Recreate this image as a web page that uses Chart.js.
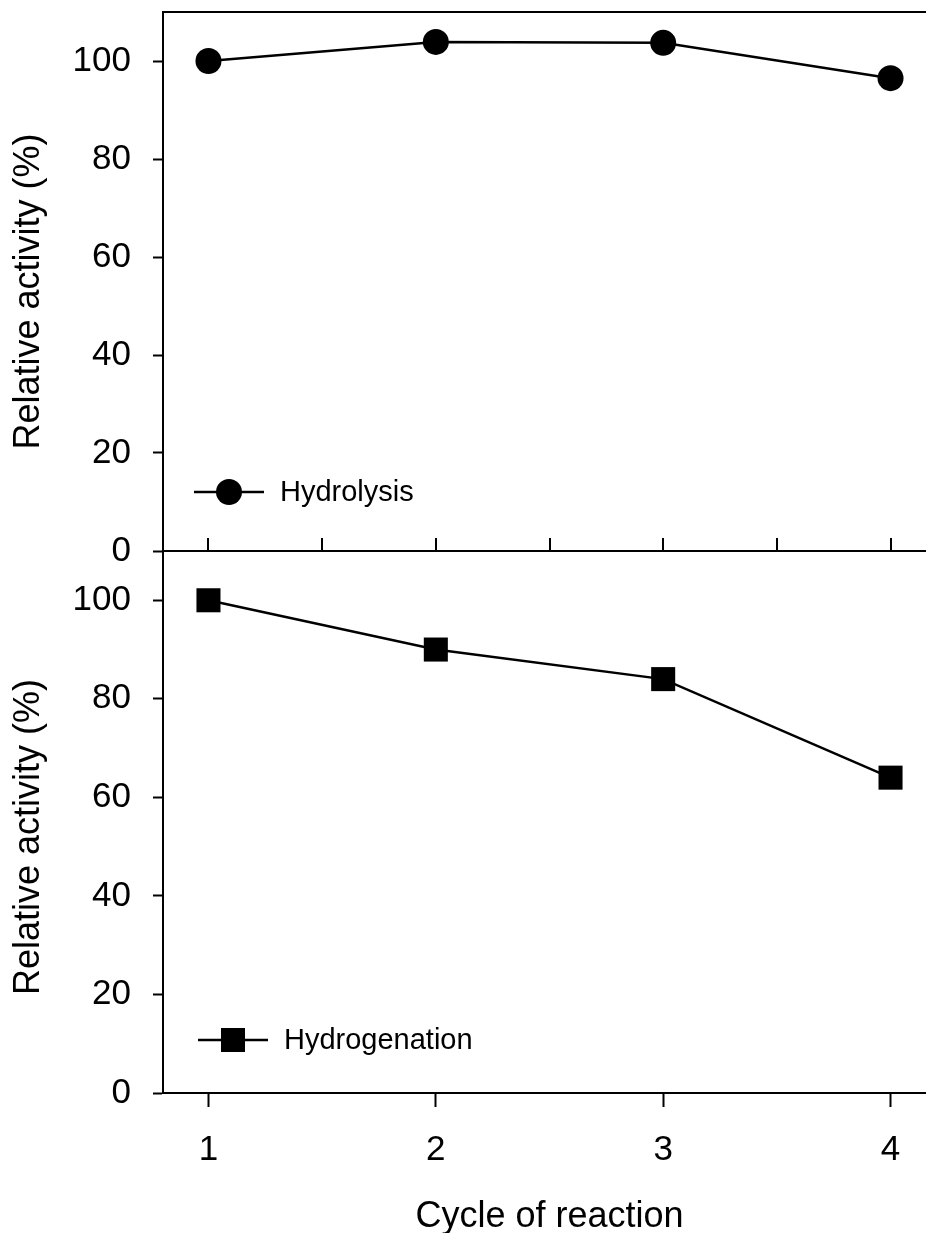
<!DOCTYPE html>
<html>
<head>
<meta charset="utf-8">
<script src="https://cdn.jsdelivr.net/npm/chart.js@4"></script>
<style>
  html, body { margin: 0; padding: 0; background: #fff; overflow: hidden; }
  #wrap { position: relative; width: 926px; height: 1233px; overflow: hidden; }
  #topBox { position: absolute; left: 0; top: 0; width: 940px; height: 580px; }
  #bottomBox { position: absolute; left: 0; top: 540px; width: 940px; height: 700px; }
</style>
</head>
<body>
<div id="wrap">
  <div id="topBox"><canvas id="topChart"></canvas></div>
  <div id="bottomBox"><canvas id="bottomChart"></canvas></div>
</div>
<script>
const cycles = [1, 2, 3, 4];
const hydrolysis = [100, 103.9, 103.7, 96.5];
const hydrogenation = [100, 90, 84, 64];
const yTicks = [0, 20, 40, 60, 80, 100];
const xTicksTop = [1, 1.5, 2, 2.5, 3, 3.5, 4];
const xTicksBottom = [1, 2, 3, 4];

Chart.defaults.font.family = "'Liberation Sans', Arial, sans-serif";
Chart.defaults.color = '#000';

function points(values) {
  return cycles.map((c, i) => ({ x: c, y: values[i] }));
}

// no extra room for tick labels, the box sizes are fixed
function noPadding(s) {
  s.paddingTop = 0;
  s.paddingBottom = 0;
  s.paddingLeft = 0;
  s.paddingRight = 0;
}

// top and right border of the box, plus ticks pointing inside on the top panel
const framePlugin = {
  id: 'frame',
  afterDraw(chart, args, opts) {
    const { ctx, chartArea: a } = chart;
    ctx.save();
    ctx.strokeStyle = '#000';
    ctx.lineWidth = 2;
    ctx.beginPath();
    if (opts.top) {
      ctx.moveTo(a.left - 1, a.top);
      ctx.lineTo(a.right, a.top);
    }
    ctx.moveTo(a.right, a.top);
    ctx.lineTo(a.right, a.bottom);
    if (opts.innerTicks) {
      const xs = chart.scales.x;
      opts.innerTicks.forEach((v) => {
        const px = Math.round(xs.getPixelForValue(v));
        ctx.moveTo(px, a.bottom);
        ctx.lineTo(px, a.bottom - 13);
      });
    }
    ctx.stroke();
    ctx.restore();
  }
};

// legend drawn inside the plot: line, marker, label
const innerLegend = {
  id: 'innerLegend',
  afterDraw(chart, args, opts) {
    const { ctx, chartArea: a } = chart;
    const ds = chart.data.datasets[0];
    const x0 = a.left + opts.dx;
    const y = a.top + opts.dy;
    ctx.save();
    ctx.strokeStyle = '#000';
    ctx.lineWidth = 2.5;
    ctx.beginPath();
    ctx.moveTo(x0, y);
    ctx.lineTo(x0 + 70, y);
    ctx.stroke();
    Chart.helpers.drawPoint(ctx, {
      pointStyle: ds.pointStyle,
      radius: ds.pointRadius,
      borderWidth: 0
    }, x0 + 35, y);
    ctx.fillStyle = '#000';
    ctx.font = "29px 'Liberation Sans', Arial, sans-serif";
    ctx.textBaseline = 'middle';
    ctx.fillText(ds.label, x0 + 86, y + 1);
    ctx.restore();
  }
};

function yScale(titleText) {
  return {
    min: 0,
    max: 110,
    afterBuildTicks: (s) => { s.ticks = yTicks.map((v) => ({ value: v })); },
    afterFit: (s) => { s.width = 163; noPadding(s); },
    grid: { drawOnChartArea: false, tickLength: 10, tickWidth: 2, tickColor: '#000' },
    border: { color: '#000', width: 2 },
    ticks: { font: { size: 35 }, padding: 22 },
    title: {
      display: true,
      text: titleText,
      font: { size: 36 },
      padding: { top: 7, bottom: 0 }
    }
  };
}

function dataset(label, values, style, radius) {
  return {
    label,
    data: points(values),
    borderColor: '#000',
    borderWidth: 2.5,
    backgroundColor: '#000',
    pointBackgroundColor: '#000',
    pointBorderWidth: 0,
    pointStyle: style,
    pointRadius: radius,
    pointHoverRadius: radius,
    tension: 0
  };
}

new Chart(document.getElementById('topChart'), {
  type: 'line',
  data: { datasets: [dataset('Hydrolysis', hydrolysis, 'circle', 13)] },
  options: {
    responsive: true,
    maintainAspectRatio: false,
    animation: false,
    clip: false,
    layout: { autoPadding: false, padding: { top: 12, right: 4, left: 0, bottom: 0 } },
    plugins: {
      legend: { display: false },
      tooltip: { enabled: false },
      frame: { top: true, innerTicks: xTicksTop },
      innerLegend: { dx: 31, dy: 480 }
    },
    scales: {
      x: {
        type: 'linear',
        min: 0.8,
        max: 4.2,
        afterBuildTicks: (s) => { s.ticks = xTicksTop.map((v) => ({ value: v })); },
        afterFit: (s) => { s.height = 29; noPadding(s); },
        grid: { drawOnChartArea: false, drawTicks: false },
        border: { color: '#000', width: 2 },
        ticks: { display: false }
      },
      y: yScale('Relative activity (%)  ')
    }
  },
  plugins: [framePlugin, innerLegend]
});

new Chart(document.getElementById('bottomChart'), {
  type: 'line',
  data: { datasets: [dataset('Hydrogenation', hydrogenation, 'rect', 17)] },
  options: {
    responsive: true,
    maintainAspectRatio: false,
    animation: false,
    clip: false,
    layout: { autoPadding: false, padding: { top: 11, right: 4, left: 0, bottom: 0 } },
    plugins: {
      legend: { display: false },
      tooltip: { enabled: false },
      frame: { top: false },
      innerLegend: { dx: 35, dy: 489 }
    },
    scales: {
      x: {
        type: 'linear',
        min: 0.8,
        max: 4.2,
        afterBuildTicks: (s) => { s.ticks = xTicksBottom.map((v) => ({ value: v })); },
        afterFit: (s) => { s.height = 147; noPadding(s); },
        grid: { drawOnChartArea: false, tickLength: 14, tickWidth: 2, tickColor: '#000' },
        border: { color: '#000', width: 2 },
        ticks: { font: { size: 35 }, padding: 22 },
        title: {
          display: true,
          text: 'Cycle of reaction',
          font: { size: 36 },
          padding: { top: 0, bottom: 1 }
        }
      },
      y: yScale('Relative activity (%)   ')
    }
  },
  plugins: [framePlugin, innerLegend]
});
</script>
</body>
</html>
